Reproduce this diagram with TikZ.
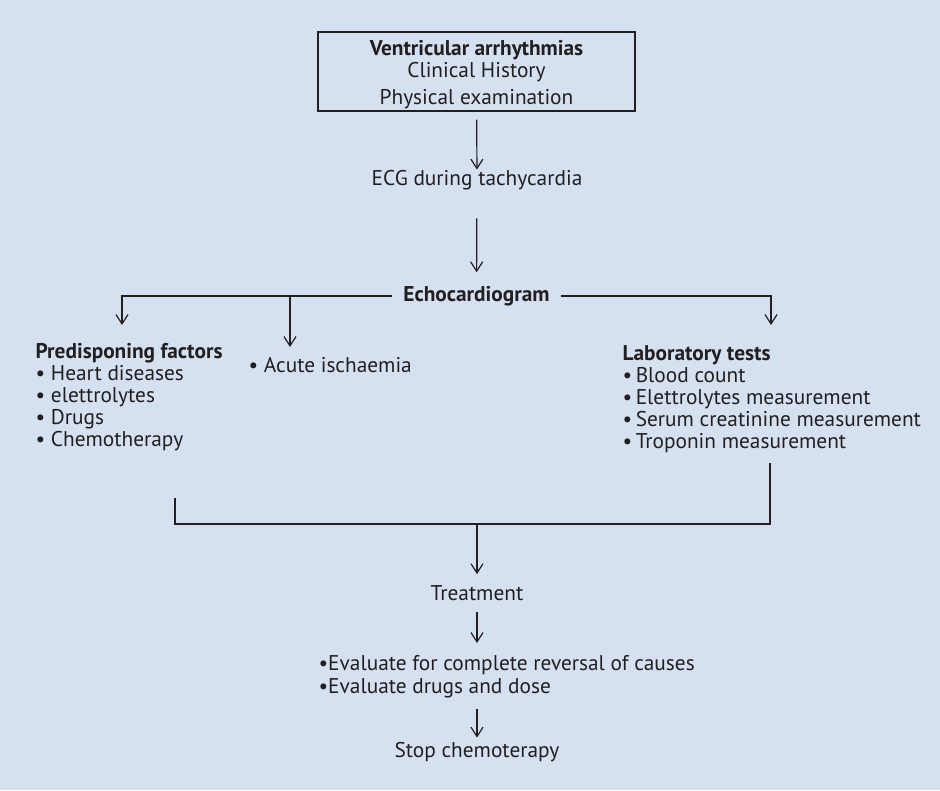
\documentclass[tikz,border=0pt]{standalone}
\usepackage{fontspec}
\setmainfont{PT Sans}
\usetikzlibrary{arrows.meta, positioning}
\definecolor{flowbg}{RGB}{213, 224, 240}
\definecolor{flowink}{RGB}{35, 31, 32}

\begin{document}
\begin{tikzpicture}[x=0.75pt, y=-0.75pt, line width=0.9pt,
  every node/.style={font=\fontsize{16}{16.5}\selectfont, text=flowink, inner sep=0pt},
  flowline/.style={draw=flowink},
  flowarrow/.style={draw=flowink, -{Straight Barb[length=7pt, width=9pt]}}]

  % Background
  \fill[flowbg] (0,0) rectangle (940,790);

  % Start box
  \node[draw=flowink, minimum width=237.75pt, minimum height=59.25pt, align=center]
    (start) at (476.5,71.5)
    {\rule{0pt}{16pt}\textbf{Ventricular arrhythmias}\\ Clinical History\\[3.5pt] Physical examination};

  % Main column
  \node (ecg) at (477,180) {ECG during tachycardia};
  \node[font=\fontsize{16}{16.5}\selectfont\bfseries] (echo) at (476.5,296) {Echocardiogram};

  % Three findings
  \node[anchor=north west, align=left]
    (pred) at (35,343)
    {\textbf{Predisponing factors}\\ • Heart diseases\\ • elettrolytes\\ • Drugs\\ • Chemotherapy};
  \node[anchor=west] (acute) at (248,365) {• Acute ischaemia};
  \node[anchor=north west, align=left]
    (lab) at (622,345)
    {\textbf{Laboratory tests}\\ •\,Blood count\\ •\,Elettrolytes measurement\\
     •\,Serum creatinine measurement\\ •\,Troponin measurement};

  % Arrow tips below the echo line
  \coordinate (predtip) at (122,325);
  \coordinate (acutetip) at (290,347);
  \coordinate (labtip) at (771,325);

  \draw[flowarrow, shorten <=6pt] (start) -- (ecg);
  \draw[flowarrow, shorten <=21pt, shorten >=10pt] (ecg) -- (echo);
  \draw[flowarrow, shorten <=8pt] (echo.west) -| (predtip);
  \draw[flowarrow] (acutetip |- echo) -- (acutetip);
  \draw[flowarrow, shorten <=8pt] (echo.east) -| (labtip);

  % Joining bracket
  \coordinate (joinleft) at (175,498);
  \coordinate (joinright) at (770,463);
  \coordinate (joinmid) at (477,524);
  \draw[flowline] (joinleft) |- (joinmid) -| (joinright);

  % Treatment
  \node (treat) at (477,593) {Treatment};
  \node[anchor=north west, align=left, font=\fontsize{16}{17.25}\selectfont]
    (eval) at (318,655)
    {•Evaluate for complete reversal of causes\\ •Evaluate drugs and dose};
  \node (stop) at (477,752) {Stop chemoterapy};

  \draw[flowarrow, shorten >=8pt] (joinmid) -- (treat);
  \draw[flowarrow, shorten <=8pt, shorten >=9pt] (treat) -- (treat |- eval.north);
  \draw[flowarrow, shorten <=8pt, shorten >=3pt] (treat |- eval.south) -- (stop);
\end{tikzpicture}
\end{document}
